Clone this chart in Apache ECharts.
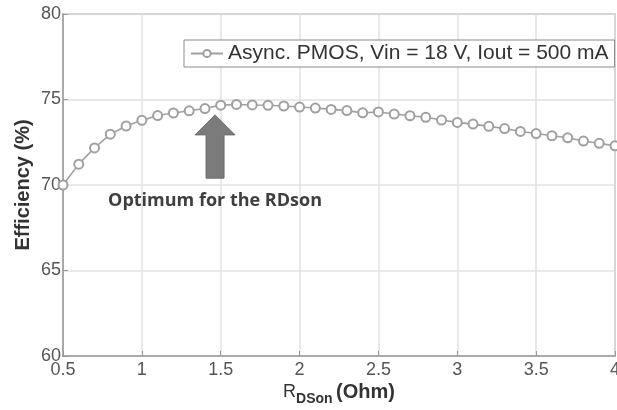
<!DOCTYPE html>
<html>
<head>
<meta charset="utf-8">
<script src="https://cdn.jsdelivr.net/npm/echarts@6/dist/echarts.min.js"></script>
<style>
  body { margin: 0; background: #fff; }
</style>
</head>
<body>
<div id="main" style="width: 617px; height: 410px;"></div>
<script>
// R_DSon (Ohm), step 0.1
const rdson = [0.5, 0.6, 0.7, 0.8, 0.9, 1.0, 1.1, 1.2, 1.3, 1.4, 1.5, 1.6, 1.7, 1.8, 1.9, 2.0, 2.1, 2.2,
  2.3, 2.4, 2.5, 2.6, 2.7, 2.8, 2.9, 3.0, 3.1, 3.2, 3.3, 3.4, 3.5, 3.6, 3.7, 3.8, 3.9, 4.0];
// efficiency (%)
const efficiency = [70.0, 71.22, 72.17, 72.97, 73.45, 73.78, 74.06, 74.21, 74.34, 74.47, 74.67, 74.71,
  74.68, 74.66, 74.62, 74.56, 74.5, 74.42, 74.35, 74.22, 74.27, 74.15, 74.05, 73.96, 73.8, 73.66,
  73.56, 73.43, 73.3, 73.13, 73.01, 72.88, 72.76, 72.57, 72.44, 72.29];
const seriesName = 'Async. PMOS, Vin = 18 V, Iout = 500 mA';
const xTicks = [0.5, 1, 1.5, 2, 2.5, 3, 3.5, 4];
const yTicks = [60, 65, 70, 75, 80];
// annotation: arrow tip / tail in data units, label under it
const arrowTip = [1.464, 74.1];
const arrowTail = [1.464, 70.4];
const noteText = 'Optimum for the RDson';
const notePos = [1.464, 69.1];

const chart = echarts.init(document.getElementById('main'));
const font = '"Liberation Sans", Arial, sans-serif';

const option = {
  animation: false,
  grid: {
    left: 63, right: 2, top: 14, bottom: 54,
    outerBoundsMode: 'none',
    show: true, borderColor: '#9a9a9a', borderWidth: 1.5
  },
  legend: {
    data: [seriesName],
    left: 184, top: 40,
    padding: [3, 6, 3, 6],
    borderColor: '#8a8a8a', borderWidth: 1,
    backgroundColor: '#fff',
    itemWidth: 32, itemHeight: 9, itemGap: 0,
    textStyle: { fontFamily: font, fontSize: 21, color: '#333' }
  },
  xAxis: {
    type: 'value',
    min: 0.5, max: 4, interval: 0.5,
    name: '{r|R}{s|DSon} {o|(Ohm)}',
    nameLocation: 'middle', nameGap: 22,
    nameMoveOverlap: false,
    nameTextStyle: {
      rich: {
        r: { fontFamily: font, fontSize: 18, color: '#333' },
        s: { fontFamily: font, fontSize: 14, fontWeight: 'bold', color: '#333', padding: [14, 0, 0, 0] },
        o: { fontFamily: font, fontSize: 20, fontWeight: 'bold', color: '#333' }
      }
    },
    axisLine: { lineStyle: { color: '#9a9a9a', width: 1.5 } },
    axisTick: { inside: true, length: 5, lineStyle: { color: '#9a9a9a' } },
    axisLabel: {
      fontFamily: font, fontSize: 18, color: '#555', margin: 5,
      formatter: v => (xTicks.includes(v) ? String(v) : '')
    },
    splitLine: { show: true, lineStyle: { color: '#e2e2e2', width: 1.5 } }
  },
  yAxis: {
    type: 'value',
    min: 60, max: 80, interval: 5,
    name: 'Efficiency (%)',
    nameLocation: 'middle', nameGap: 30,
    nameMoveOverlap: false,
    nameTextStyle: { fontFamily: font, fontSize: 20, fontWeight: 'bold', color: '#333' },
    axisLine: { show: true, lineStyle: { color: '#9a9a9a', width: 1.5 } },
    axisTick: { show: true, inside: true, length: 5, lineStyle: { color: '#9a9a9a' } },
    axisLabel: {
      fontFamily: font, fontSize: 18, color: '#555', margin: 2,
      formatter: v => (yTicks.includes(v) ? String(v) : '')
    },
    splitLine: { show: true, lineStyle: { color: '#e2e2e2', width: 1.5 } }
  },
  series: [
    {
      name: seriesName,
      type: 'line',
      data: rdson.map((x, i) => [x, efficiency[i]]),
      symbol: 'emptyCircle',
      symbolSize: 9,
      lineStyle: { color: '#a0a0a0', width: 1.6 },
      itemStyle: { color: '#a0a0a0', borderColor: '#a0a0a0', borderWidth: 1.8 }
    }
  ]
};

chart.setOption(option);

// arrow + note, placed through the chart's own scales
const tip = chart.convertToPixel({ gridIndex: 0 }, arrowTip);
const tail = chart.convertToPixel({ gridIndex: 0 }, arrowTail);
const note = chart.convertToPixel({ gridIndex: 0 }, notePos);
const headH = 20, headW = 20, shaftW = 9;
chart.setOption({
  graphic: [
    {
      type: 'polygon',
      shape: {
        points: [
          [tip[0], tip[1]],
          [tip[0] + headW, tip[1] + headH],
          [tip[0] + shaftW, tip[1] + headH],
          [tip[0] + shaftW, tail[1]],
          [tip[0] - shaftW, tail[1]],
          [tip[0] - shaftW, tip[1] + headH],
          [tip[0] - headW, tip[1] + headH]
        ]
      },
      style: { fill: '#7b7b7b', stroke: '#6e6e6e', lineWidth: 1 },
      z: 20
    },
    {
      type: 'text',
      x: note[0], y: note[1],
      style: {
        text: noteText,
        fill: '#3f3f3f',
        font: 'bold 18px "Open Sans", sans-serif',
        align: 'center', verticalAlign: 'middle'
      },
      z: 20
    }
  ]
});
</script>
</body>
</html>
